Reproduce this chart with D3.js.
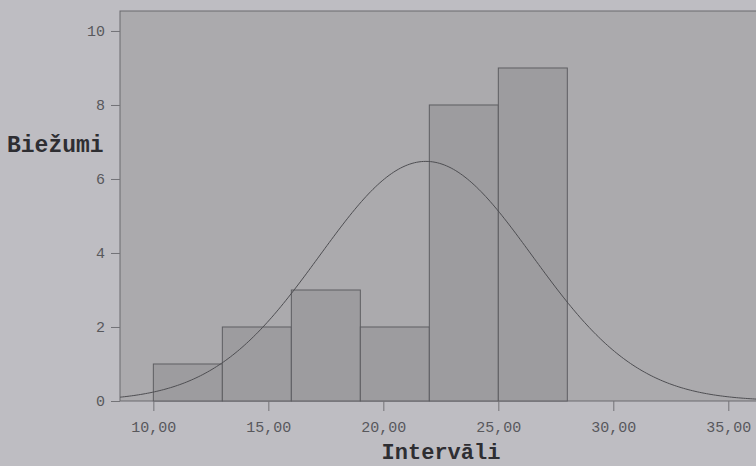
<!DOCTYPE html>
<html>
<head>
<meta charset="utf-8">
<script src="https://cdn.jsdelivr.net/npm/d3@7"></script>
<style>
	body { margin: 0; background: #bebdc2; }
	svg { display: block; }
</style>
</head>
<body>
<div id="chart"></div>
<script>
	// histogram bins (lower edge, width 3) and counts
	const binStarts = [10, 13, 16, 19, 22, 25];
	const binWidth = 3;
	const counts = [1, 2, 3, 2, 8, 9];
	const xTicks = [10, 15, 20, 25, 30, 35];
	const yTicks = [0, 2, 4, 6, 8, 10];
	// fitted normal curve parameters
	const fitMean = 21.85;
	const fitSd = 4.62;
	const fitN = 25;

	const width = 756, height = 466;
	const plot = { left: 120, top: 11, right: 772, bottom: 401 };

	const svg = d3.select('#chart').append('svg')
		.attr('width', width)
		.attr('height', height);

	const x = d3.scaleLinear().domain([8.55, 36.9]).range([plot.left, plot.right]);
	const y = d3.scaleLinear().domain([0, 10.54]).range([plot.bottom, plot.top]);

	svg.append('rect')
		.attr('x', plot.left)
		.attr('y', plot.top)
		.attr('width', plot.right - plot.left)
		.attr('height', plot.bottom - plot.top)
		.attr('fill', '#abaaad')
		.attr('stroke', '#6a6a6e')
		.attr('stroke-width', 1);

	const bins = binStarts.map((s, i) => ({ x0: s, x1: s + binWidth, n: counts[i] }));
	svg.selectAll('.bar')
		.data(bins)
		.enter()
		.append('rect')
		.attr('class', 'bar')
		.attr('x', d => x(d.x0))
		.attr('y', d => y(d.n))
		.attr('width', d => x(d.x1) - x(d.x0))
		.attr('height', d => y(0) - y(d.n))
		.attr('fill', '#9d9c9f')
		.attr('stroke', '#5e5e62')
		.attr('stroke-width', 1);

	// normal curve scaled to counts
	const pdf = v => fitN * binWidth / (fitSd * Math.sqrt(2 * Math.PI)) *
		Math.exp(-((v - fitMean) ** 2) / (2 * fitSd * fitSd));
	const curveX = d3.range(x.domain()[0], x.domain()[1], 0.1);
	svg.append('path')
		.datum(curveX)
		.attr('fill', 'none')
		.attr('stroke', '#4e4e52')
		.attr('stroke-width', 1)
		.attr('d', d3.line().x(d => x(d)).y(d => y(pdf(d))).curve(d3.curveBasis));

	const yAxis = svg.append('g')
		.attr('transform', `translate(${plot.left},0)`)
		.call(d3.axisLeft(y).tickValues(yTicks).tickSize(9).tickPadding(6));
	yAxis.select('.domain').remove();

	const xAxis = svg.append('g')
		.attr('transform', `translate(0,${plot.bottom})`)
		.call(d3.axisBottom(x).tickValues(xTicks).tickSize(10).tickPadding(10)
			.tickFormat(d => d3.format('.2f')(d).replace('.', ',')));
	xAxis.select('.domain').remove();

	svg.selectAll('.tick line').attr('stroke', '#737377');
	svg.selectAll('.tick text')
		.attr('fill', '#58585c')
		.style('font-family', '"Liberation Mono", "DejaVu Sans Mono", monospace')
		.style('font-size', '15px');

	svg.append('text')
		.attr('x', 7)
		.attr('y', 152)
		.attr('fill', '#2e2e32')
		.style('font-family', '"Liberation Mono", monospace')
		.style('font-weight', 'bold')
		.style('font-size', '23px')
		.text('Biežumi');

	svg.append('text')
		.attr('x', 441)
		.attr('y', 459)
		.attr('text-anchor', 'middle')
		.attr('fill', '#2e2e32')
		.style('font-family', '"Liberation Mono", monospace')
		.style('font-weight', 'bold')
		.style('font-size', '22px')
		.text('Intervāli');
</script>
</body>
</html>
